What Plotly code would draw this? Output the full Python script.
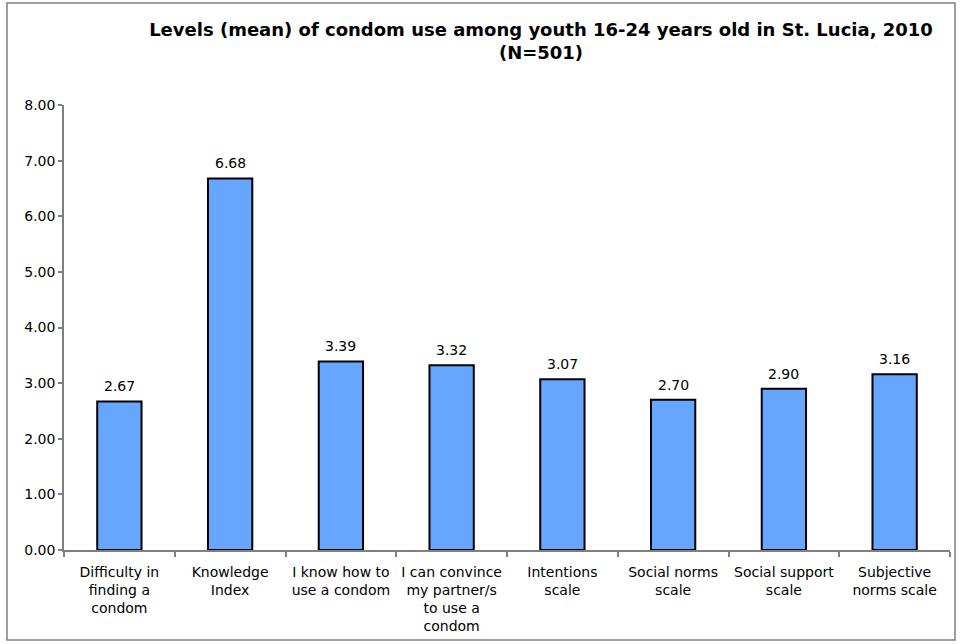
import plotly.graph_objects as go

categories = [
    "Difficulty in<br>finding a<br>condom",
    "Knowledge<br>Index",
    "I know how to<br>use a condom",
    "I can convince<br>my partner/s<br>to use a<br>condom",
    "Intentions<br>scale",
    "Social norms<br>scale",
    "Social support<br>scale",
    "Subjective<br>norms scale",
]
values = [2.67, 6.68, 3.39, 3.32, 3.07, 2.70, 2.90, 3.16]
y_ticks = [0, 1, 2, 3, 4, 5, 6, 7, 8]

FONT = "DejaVu Sans, Verdana, sans-serif"

fig = go.Figure(
    go.Bar(
        x=categories,
        y=values,
        marker=dict(color="#66A6FF", line=dict(color="black", width=2)),
        hoverinfo="x+y",
    )
)

for c, v in zip(categories, values):
    fig.add_annotation(
        x=c, y=v, text=f"{v:.2f}", showarrow=False,
        yanchor="bottom", yshift=5,
        font=dict(family=FONT, size=14, color="black"),
    )

L, R, T, B = 64, 10, 105, 94
W, H = 960, 644
pw = W - L - R
ph = H - T - B

def px_x(p):
    return (p - L) / pw

def px_y(p):
    return (H - B - p) / ph

fig.update_layout(
    width=W,
    height=H,
    margin=dict(l=L, r=R, t=T, b=B),
    paper_bgcolor="white",
    plot_bgcolor="white",
    bargap=0.6,
    showlegend=False,
    font=dict(family=FONT, size=14, color="black"),
    title=dict(
        text="Levels (mean) of condom use among youth 16-24 years old in St. Lucia, 2010<br>(N=501)",
        xref="container",
        x=541 / W,
        xanchor="center",
        yref="container",
        y=1 - 36 / H,
        yanchor="middle",
        font=dict(family=FONT, size=18, color="black", weight="bold"),
    ),
    xaxis=dict(
        showline=True,
        linecolor="#808080",
        linewidth=1.5,
        ticks="outside",
        tickson="boundaries",
        ticklen=5,
        tickcolor="#808080",
        tickwidth=1.5,
        ticklabelstandoff=8,
        tickfont=dict(family=FONT, size=14, color="black"),
        showgrid=False,
    ),
    yaxis=dict(
        range=[0, 8],
        tickvals=y_ticks,
        tickformat=".2f",
        showline=True,
        linecolor="#808080",
        linewidth=1.5,
        ticks="outside",
        ticklen=4,
        tickcolor="#808080",
        tickwidth=1.5,
        tickfont=dict(family=FONT, size=14, color="black"),
        showgrid=False,
        zeroline=False,
    ),
    shapes=[
        dict(
            type="rect",
            xref="paper",
            yref="paper",
            x0=px_x(7),
            x1=px_x(955),
            y0=px_y(640),
            y1=px_y(3),
            line=dict(color="#808080", width=1.5),
            fillcolor="rgba(0,0,0,0)",
            layer="below",
        )
    ],
)

fig.write_html("out.html")
